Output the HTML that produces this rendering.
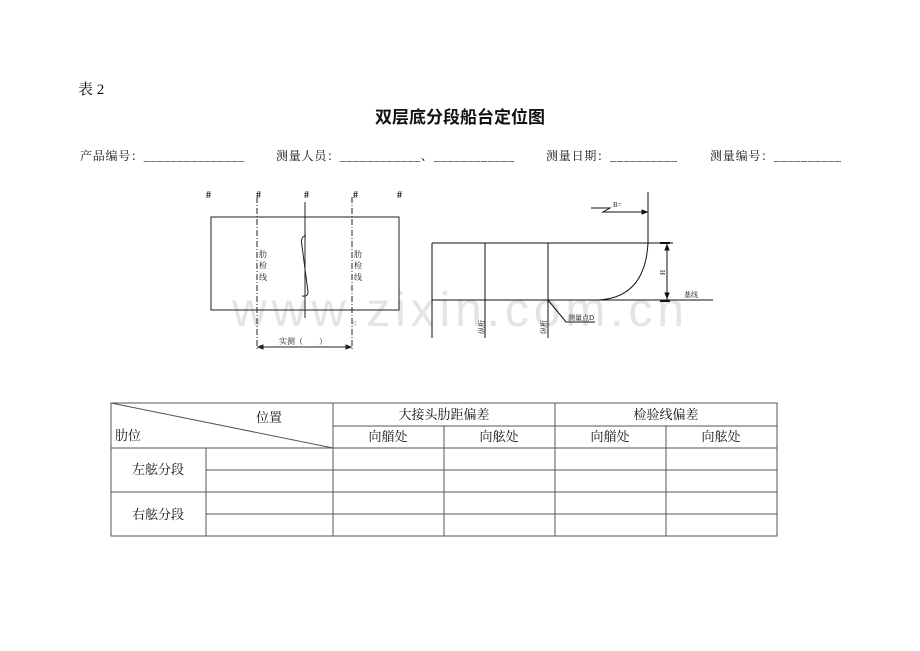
<!DOCTYPE html>
<html><head><meta charset="utf-8"><style>
html,body{margin:0;padding:0;background:#fff;}
svg{display:block;}
text{font-family:"Liberation Serif","Noto Serif CJK SC","Noto Sans CJK SC",serif;fill:#111;}
</style></head><body>
<svg width="920" height="651" viewBox="0 0 920 651" xmlns="http://www.w3.org/2000/svg">
<text x="232" y="326" font-size="48" style="font-family:'Liberation Sans',sans-serif;fill:#e4e4e4" textLength="452">www.zixin.com.cn</text>
<text x="78" y="94" font-size="15">表 2</text>
<text x="460" y="123" font-size="17" font-weight="bold" text-anchor="middle" style="font-family:'Noto Sans CJK SC',sans-serif">双层底分段船台定位图</text>
<text x="80" y="160" font-size="12" textLength="164">产品编号：_______________</text>
<text x="276" y="160" font-size="12" textLength="238">测量人员：____________、____________</text>
<text x="546" y="160" font-size="12" textLength="131">测量日期：__________</text>
<text x="710" y="160" font-size="12" textLength="131">测量编号：__________</text>
<g font-size="10" font-weight="bold">
<text x="206" y="198">#</text><text x="256" y="198">#</text><text x="304" y="198">#</text><text x="353" y="198">#</text><text x="397" y="198">#</text>
</g>
<g stroke="#222" fill="none" stroke-width="1">
<rect x="211" y="217" width="188" height="93"/>
<line x1="257" y1="197" x2="257" y2="350" stroke-dasharray="6,2,1,2"/>
<line x1="352" y1="197" x2="352" y2="350" stroke-dasharray="6,2,1,2"/>
<line x1="305" y1="202" x2="305" y2="318"/>
<path d="M306 236 Q300 236 302 246 L308 292 Q308 297 302 296"/>
<line x1="258" y1="347" x2="351" y2="347"/>
<path d="M258 347 l5 -2 v4z M351 347 l-5 -2 v4z" fill="#222"/>
</g>
<g font-size="8"><text x="259" y="257">肋</text><text x="259" y="268">检</text><text x="259" y="280">线</text>
<text x="354" y="257">肋</text><text x="354" y="268">检</text><text x="354" y="280">线</text>
<text x="279" y="344">实测（　　）</text></g>
<g stroke="#111" fill="none" stroke-width="1">
<line x1="432" y1="243" x2="673" y2="243"/>
<line x1="432" y1="300" x2="713" y2="300"/>
<line x1="432" y1="243" x2="432" y2="338"/>
<line x1="485" y1="243" x2="485" y2="338"/>
<line x1="548" y1="243" x2="548" y2="338"/>
<line x1="648" y1="192" x2="648" y2="243"/>
<path d="M648 243 Q645 298 598 300"/>
<line x1="667" y1="243" x2="667" y2="300"/>
<path d="M667 245 l-2 5 h4z M667 298 l-2 -5 h4z" fill="#111"/>
<line x1="660" y1="243" x2="670" y2="243" stroke-width="2"/>
<line x1="660" y1="301" x2="670" y2="301" stroke-width="2"/>
<path d="M591 208 H610 L603 212 H647"/>
<path d="M647 212 l-5 -2 v4z" fill="#111"/>
<path d="M548 300 L566 322 H595"/>
</g>
<g font-size="7"><text x="613" y="207">B=</text><text x="568" y="320">测量点D</text>
<text x="684" y="297">基线</text>
<text transform="translate(484 334) rotate(-90)">纵桁</text>
<text transform="translate(546 334) rotate(-90)">纵桁</text>
<text transform="translate(665 275) rotate(-90)">H</text></g>
<g stroke="#555" fill="none" stroke-width="1">
<rect x="111" y="403" width="666" height="133"/>
<line x1="333" y1="403" x2="333" y2="536"/>
<line x1="444" y1="426" x2="444" y2="536"/>
<line x1="555" y1="403" x2="555" y2="536"/>
<line x1="666" y1="426" x2="666" y2="536"/>
<line x1="333" y1="426" x2="777" y2="426"/>
<line x1="111" y1="448" x2="777" y2="448"/>
<line x1="206" y1="470" x2="777" y2="470"/>
<line x1="111" y1="492" x2="777" y2="492"/>
<line x1="206" y1="514" x2="777" y2="514"/>
<line x1="206" y1="448" x2="206" y2="536"/>
<line x1="111" y1="403" x2="333" y2="448"/>
</g>
<g font-size="13">
<text x="256" y="422">位置</text><text x="115" y="440">肋位</text>
<text x="444" y="419" text-anchor="middle">大接头肋距偏差</text>
<text x="666" y="419" text-anchor="middle">检验线偏差</text>
<text x="388" y="441" text-anchor="middle">向艏处</text><text x="499" y="441" text-anchor="middle">向舷处</text>
<text x="610" y="441" text-anchor="middle">向艏处</text><text x="721" y="441" text-anchor="middle">向舷处</text>
<text x="158" y="474" text-anchor="middle">左舷分段</text>
<text x="158" y="519" text-anchor="middle">右舷分段</text>
</g>
</svg>
</body></html>
